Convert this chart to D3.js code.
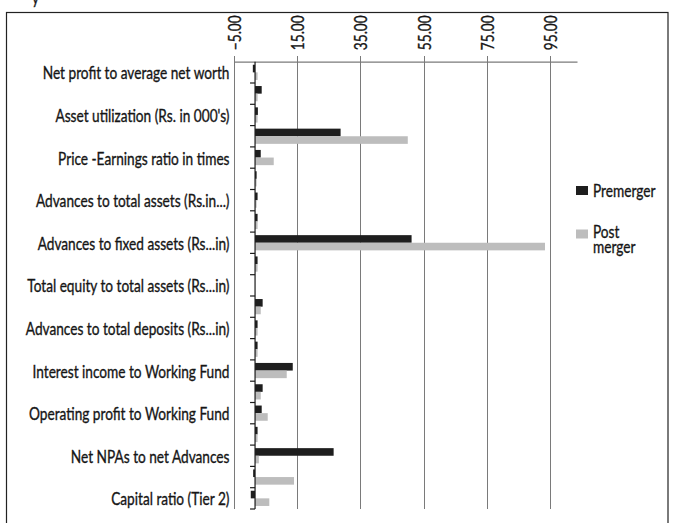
<!DOCTYPE html>
<html>
<head>
<meta charset="utf-8">
<script src="https://cdn.jsdelivr.net/npm/d3@7/dist/d3.min.js"></script>
<style>
  html, body { margin: 0; padding: 0; background: #fff; }
  svg text { font-family: Lato, "DejaVu Sans Condensed", sans-serif; fill: #161616; stroke: #161616; stroke-width: 0.35px; }
</style>
</head>
<body>
<svg id="chart" width="673" height="523"></svg>
<script>
// 21 categories; the chart only prints every other label (hidden ones are not drawn)
const categories = [
  "Net profit to average net worth",
  "Return on average assets (hidden label)",
  "Asset utilization (Rs. in 000's)",
  "Business per employee (hidden label)",
  "Price -Earnings ratio in times",
  "Dividend payout (hidden label)",
  "Advances to total assets (Rs.in...)",
  "Investments to total assets (hidden label)",
  "Advances to fixed assets (Rs...in)",
  "Deposits to total assets (hidden label)",
  "Total equity to total assets (Rs...in)",
  "Borrowings to total assets (hidden label)",
  "Advances to total deposits (Rs...in)",
  "Investments to total deposits (hidden label)",
  "Interest income to Working Fund",
  "Interest expended to Working Fund (hidden label)",
  "Operating profit to Working Fund",
  "Gross NPAs to gross Advances (hidden label)",
  "Net NPAs to net Advances",
  "Capital ratio (Tier 1) (hidden label)",
  "Capital ratio (Tier 2)"
];
const premerger  = [1.1, 3.9, 2.7, 28.8, 3.6, 2.3, 2.6, 2.6, 51.2, 2.6, 1.8, 4.2, 2.6, 2.6, 13.7, 4.2, 3.9, 2.6, 26.6, 1.2, 0.45];
const postmerger = [2.6, 2.6, 2.6, 50.0, 7.7, 2.3, 2.3, 2.6, 93.3, 2.6, 1.8, 3.6, 2.6, 2.6, 11.8, 3.6, 5.8, 2.6, 3.0, 14.1, 6.3];
const seriesNames = ["Premerger", "Post merger"];
const tickValues = [-5, 15, 35, 55, 75, 95];
const xDomain = [-5, 103.4];
const axisCrossesAt = 1.8;

const colors = ["#1e1e1e", "#bdbdbd"];
const FS = 17;
const svg = d3.select("#chart");

// horizontal compression so the available font matches the condensed face of the reference
const probe = svg.append("text").attr("font-size", FS).text(categories[0]);
const sx = 187 / probe.node().getComputedTextLength();
probe.remove();

// frame
svg.append("rect").attr("x", 6.5).attr("y", 12.5).attr("width", 661.5).attr("height", 530)
  .attr("fill", "none").attr("stroke", "#222").attr("stroke-width", 1.2);
// fragment of text above the frame
svg.append("text").attr("transform", `translate(32,4) scale(${sx},1)`).attr("font-size", FS).text("y");

const x = d3.scaleLinear().domain(xDomain).range([233.5, 577]);
const y = d3.scaleBand().domain(d3.range(categories.length)).range([61.7, 509]).paddingInner(0).paddingOuter(0);
const ys = d3.scaleBand().domain([0, 1]).range([0, y.bandwidth()]).paddingInner(0).paddingOuter(0.4);

// gridlines
svg.append("g").selectAll("line").data(tickValues).join("line")
  .attr("x1", d => Math.round(x(d)) + 0.5).attr("x2", d => Math.round(x(d)) + 0.5)
  .attr("y1", 56).attr("y2", 509)
  .attr("stroke", "#7a7a7a").attr("stroke-width", 1);

// top value axis
const xAxis = d3.axisTop(x).tickValues(tickValues).tickFormat(d3.format(".2f")).tickSize(0).tickPadding(0);
const gx = svg.append("g").attr("transform", "translate(0,61.7)").call(xAxis);
gx.select(".domain").attr("stroke", "#7a7a7a").attr("stroke-width", 1.2);
gx.selectAll(".tick").attr("transform", null);
gx.selectAll("text")
  .attr("font-size", FS)
  .attr("x", 0).attr("y", 0).attr("dy", "0.36em")
  .attr("text-anchor", "start")
  .attr("fill", "#161616")
  .attr("font-family", null)
  .attr("transform", d => `translate(${Math.round(x(d)) + 0.5},-11.5) rotate(-90) scale(${sx},1)`);

// bars
const series = [premerger, postmerger];
const base = x(axisCrossesAt);
series.forEach((vals, si) => {
  svg.append("g").selectAll("rect").data(vals).join("rect")
    .attr("x", d => Math.min(x(d), base))
    .attr("width", d => Math.abs(x(d) - base))
    .attr("y", (d, i) => y(i) + ys(si))
    .attr("height", ys.bandwidth())
    .attr("fill", colors[si]);
});

// category axis (at crossing value) with outward ticks on the left
const gy = svg.append("g").attr("transform", `translate(${base},0)`);
gy.append("line").attr("x1", 0).attr("x2", 0).attr("y1", 61.7).attr("y2", 509)
  .attr("stroke", "#1a1a1a").attr("stroke-width", 1.2);
const boundaries = d3.range(1, categories.length).map(i => y(i)).concat([y.range()[1]]);
gy.selectAll("line.tk").data(boundaries).join("line").attr("class", "tk")
  .attr("x1", -5).attr("x2", 0).attr("y1", d => d).attr("y2", d => d)
  .attr("stroke", "#1a1a1a").attr("stroke-width", 1.2);

// category labels (every other one shown)
svg.append("g").selectAll("text").data(categories.map((c, i) => ({c, i})).filter(d => d.i % 2 === 0)).join("text")
  .attr("transform", d => `translate(229.5,${y(d.i) + y.bandwidth() / 2 + 1}) scale(${sx},1)`)
  .attr("dy", "0.35em")
  .attr("text-anchor", "end")
  .attr("font-size", FS)
  .text(d => d.c);

// legend
const lg = svg.append("g");
lg.append("rect").attr("x", 576).attr("y", 186).attr("width", 12).attr("height", 9).attr("fill", colors[0]);
lg.append("text").attr("transform", `translate(593,197) scale(${sx},1)`).attr("font-size", FS).text(seriesNames[0]);
lg.append("rect").attr("x", 576).attr("y", 229.5).attr("width", 12).attr("height", 9).attr("fill", colors[1]);
const t2 = lg.append("text").attr("transform", `translate(593,238) scale(${sx},1)`).attr("font-size", FS);
seriesNames[1].split(" ").forEach((w, i) => {
  t2.append("tspan").attr("x", 0).attr("dy", i === 0 ? 0 : 15).text(w);
});
</script>
</body>
</html>
